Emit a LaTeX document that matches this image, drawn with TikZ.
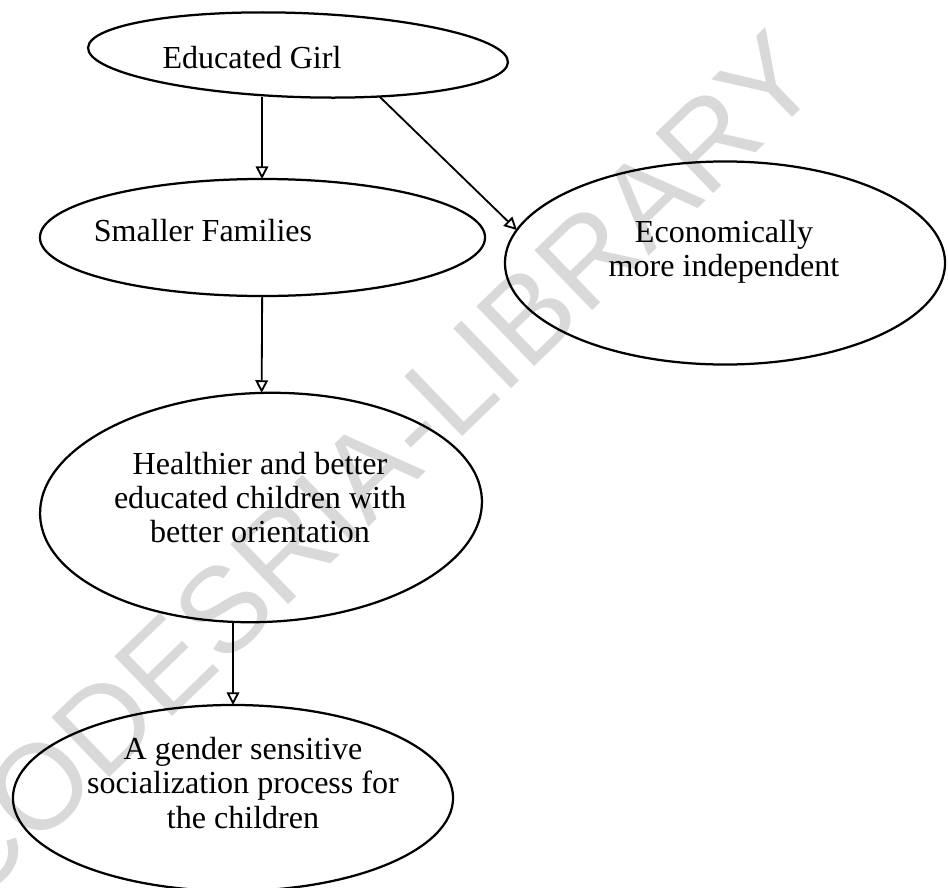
\documentclass[tikz,border=0pt]{standalone}
\usepackage{fontspec}
\setmainfont{Liberation Serif}
\newfontfamily\wmfont{Liberation Sans}
\usetikzlibrary{arrows.meta,shapes.geometric}
\begin{document}
\begin{tikzpicture}[x=0.025cm,y=-0.025cm,
  ell/.style={draw, ellipse, line width=1.6pt, inner sep=0pt, outer sep=0pt},
  lbl/.style={align=center, inner sep=0pt, font=\fontsize{22.8}{24.2}\selectfont},
  arr/.style={line width=1.3pt, -{Triangle[open,length=9pt,width=9pt,line width=1.3pt]}},
  wm/.style={text=black!15, font=\wmfont\fontsize{86}{90}\selectfont, rotate=44, inner sep=0pt}]
\useasboundingbox (0,0) rectangle (948,888);
% watermark
\node[wm] (wmark) at (370,468) {CODESRIA-LIBRARY};
% ellipses
\node[ell, minimum width=10.5cm, minimum height=2.1cm, rotate=-2] (eg) at (298,55) {};
\node[ell, minimum width=11.125cm, minimum height=2.925cm] (sf) at (262.5,237.5) {};
\node[ell, minimum width=11cm, minimum height=5.075cm] (ec) at (725,263) {};
\node[ell, minimum width=11.05cm, minimum height=5.725cm, rotate=2] (hb) at (261,507.5) {};
\node[ell, minimum width=11cm, minimum height=4.65cm] (gs) at (233,798) {};
% labels
\node[lbl, anchor=base] (egt) at (252,68) {Educated Girl};
\node[lbl, anchor=base] (sft) at (203,241) {Smaller Families};
\node[lbl] (ect) at (724,251.5) {Economically\\more independent};
\node[lbl] (hbt) at (260,497.5) {Healthier and better\\educated children with\\better orientation};
\node[lbl] (gst) at (243,783) {A gender sensitive\\socialization process for\\the children};
% connectors
\coordinate (c1) at (262,0);
\coordinate (c4) at (233,0);
\draw[arr] (eg.south -| c1) -- (sf.north -| c1);
\draw[arr] (eg.335) -- (ec.171);
\draw[arr] (sf) -- (hb);
\draw[arr] (hb.south -| c4) -- (gs.north -| c4);
\end{tikzpicture}
\end{document}
